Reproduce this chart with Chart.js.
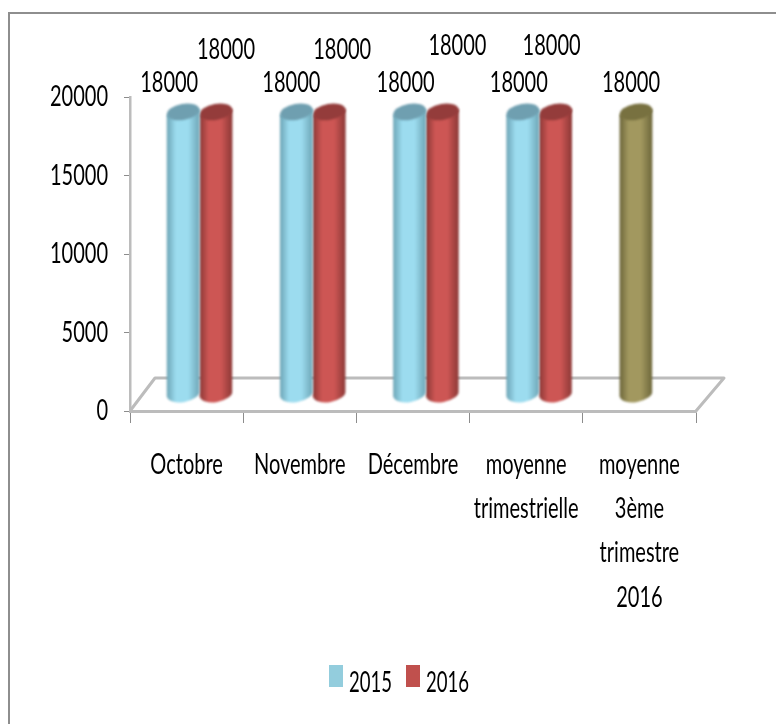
<!DOCTYPE html>
<html>
<head>
<meta charset="utf-8">
<script src="https://cdn.jsdelivr.net/npm/chart.js@4"></script>
<style>
html,body{margin:0;padding:0;background:#fff;overflow:hidden}
#wrap{position:relative;width:776px;height:724px}
canvas{filter:blur(0.35px)}
#legend{position:absolute;top:663px;left:329px;display:flex;font:29px Lato,sans-serif;color:#000;line-height:36px;filter:blur(0.35px)}
#legend span.i{display:flex;align-items:flex-start}
#legend i{display:block;width:14px;height:22px;margin:2px 6px 0 0}
#legend b{display:block;font-weight:400;width:43px;transform:scaleX(0.64);transform-origin:left center}
</style>
</head>
<body>
<div id="wrap"><canvas id="c" width="776" height="724"></canvas><div id="legend"></div></div>
<script>
const categories = ["Octobre", "Novembre", "Décembre", ["moyenne", "trimestrielle"], ["moyenne", "3ème", "trimestre", "2016"]];
const values2015 = [18000, 18000, 18000, 18000, 18000];
const values2016 = [18000, 18000, 18000, 18000, null];
const yTicks = [0, 5000, 10000, 15000, 20000];

const colors2015 = ["#93cddd", "#93cddd", "#93cddd", "#93cddd", "#948a54"];
const colors2016 = ["#c0504d", "#c0504d", "#c0504d", "#c0504d", "#c0504d"];
const legendColors = ["#93cddd", "#c0504d"];

const labelDx = [[-1, 8, 9, 9, 8], [23, 26, 28, 9, 0]];
const labelDy = [[-46, -46, -46, -46, -46], [-79, -79, -83, -83, 0]];

const FONT = 'Lato, sans-serif';
const SQUEEZE = 0.69;
const DEPTH_X = 25, DEPTH_Y = 33;

const shades = {
  "#93cddd": {edge: "#6da5b6", mid: "#9cdcef", top: "#6f9fb0"},
  "#c0504d": {edge: "#8b3836", mid: "#cd5654", top: "#943c3b"},
  "#948a54": {edge: "#6c663a", mid: "#a2985f", top: "#787140"}
};

const canvas = document.getElementById("c");
const rawCtx = canvas.getContext("2d");
const rawFillText = rawCtx.fillText.bind(rawCtx);
rawCtx.fillText = function (text, x, y) {
  rawCtx.save();
  rawCtx.translate(x, y);
  rawCtx.scale(SQUEEZE, 1);
  rawFillText(text, 0, 0);
  rawCtx.restore();
};

const frame = {
  id: "frame",
  beforeDraw(chart) {
    const c = chart.ctx;
    c.save();
    c.strokeStyle = "#8e8e8e";
    c.lineWidth = 2;
    c.beginPath();
    c.moveTo(9, 724); c.lineTo(9, 13); c.lineTo(776, 13);
    c.stroke();
    c.restore();
  }
};

const floor = {
  id: "floor",
  beforeDatasetsDraw(chart) {
    const {left, right, bottom} = chart.chartArea;
    const c = chart.ctx;
    c.save();
    c.strokeStyle = "#bcbcbc";
    c.lineWidth = 3;
    c.lineJoin = "round";
    c.beginPath();
    c.moveTo(left, bottom);
    c.lineTo(left + DEPTH_X, bottom - DEPTH_Y);
    c.lineTo(right + DEPTH_X + 3, bottom - DEPTH_Y);
    c.lineTo(right, bottom);
    c.stroke();
    c.restore();
  }
};

function cylinder(c, el, col) {
  const s = shades[col];
  const w = el.width, x = el.x + DEPTH_X / 2 + 0.5, half = w / 2;
  const top = el.y - DEPTH_Y / 2, base = el.base - DEPTH_Y / 2;
  const rot = -0.17, ry = 8;
  const g = c.createLinearGradient(x - half, 0, x + half, 0);
  g.addColorStop(0, s.edge);
  g.addColorStop(0.28, s.mid);
  g.addColorStop(0.65, s.mid);
  g.addColorStop(1, s.edge);
  c.save();
  c.filter = "blur(0.8px)";
  c.fillStyle = g;
  const tilt = half * Math.sin(-rot);
  c.beginPath();
  c.moveTo(x - half, top + tilt);
  c.lineTo(x - half, base + tilt);
  c.ellipse(x, base, half, ry, rot, Math.PI, 0, true);
  c.lineTo(x + half, top - tilt);
  c.closePath();
  c.fill();
  c.fillStyle = s.top;
  c.beginPath();
  c.ellipse(x, top, half, ry, rot, 0, Math.PI * 2);
  c.fill();
  c.restore();
}

const pointColors = [colors2015, colors2016];

const cylinders = {
  id: "cylinders",
  beforeDatasetDraw(chart, args) {
    const meta = args.meta;
    meta.data.forEach((el, i) => {
      if (chart.data.datasets[args.index].data[i] == null) return;
      cylinder(chart.ctx, el, pointColors[args.index][i]);
    });
    return false;
  }
};

const valueLabels = {
  id: "valueLabels",
  afterDatasetsDraw(chart) {
    const c = chart.ctx;
    c.save();
    c.font = "29px " + FONT;
    c.fillStyle = "#000";
    c.textAlign = "center";
    c.textBaseline = "middle";
    chart.data.datasets.forEach((ds, d) => {
      chart.getDatasetMeta(d).data.forEach((el, i) => {
        if (ds.data[i] == null) return;
        c.fillText(String(ds.data[i]), el.x + labelDx[d][i], el.y + labelDy[d][i]);
      });
    });
    c.restore();
  }
};

const chart = new Chart(canvas, {
  type: "bar",
  data: {
    labels: categories,
    datasets: [
      {label: "2015", data: values2015, backgroundColor: colors2015, categoryPercentage: 0.58, barPercentage: 1},
      {label: "2016", data: values2016, backgroundColor: colors2016, categoryPercentage: 0.58, barPercentage: 1}
    ]
  },
  plugins: [frame, floor, cylinders, valueLabels],
  options: {
    responsive: false,
    animation: false,
    layout: {padding: {left: 0, right: 80, top: 97, bottom: 0}},
    plugins: {legend: {display: false}, tooltip: {enabled: false}},
    scales: {
      x: {
        afterFit(s) { s.height = 313; },
        grid: {drawOnChartArea: false, color: "#8c8c8c", tickLength: 12, lineWidth: 1},
        border: {color: "#bcbcbc", width: 3},
        ticks: {
          color: "#000", maxRotation: 0, autoSkip: false, padding: 19,
          font: {family: FONT, size: 29, lineHeight: 1.53}
        }
      },
      y: {
        min: 0, max: 20000,
        afterFit(s) { s.width = 130; },
        afterBuildTicks(s) { s.ticks = yTicks.map(v => ({value: v})); },
        grid: {drawOnChartArea: false, color: "#8c8c8c", tickLength: 6, lineWidth: 1},
        border: {color: "#bcbcbc", width: 2.5},
        ticks: {color: "#000", padding: 16, font: {family: FONT, size: 29}, callback: v => String(v)}
      }
    }
  }
});

document.getElementById("legend").innerHTML = chart.data.datasets.map((d, i) =>
  '<span class="i" style="margin-right:' + (i ? 0 : 14) + 'px"><i style="background:' + legendColors[i] + '"></i><b>' + d.label + '</b></span>').join("");
</script>
</body>
</html>
